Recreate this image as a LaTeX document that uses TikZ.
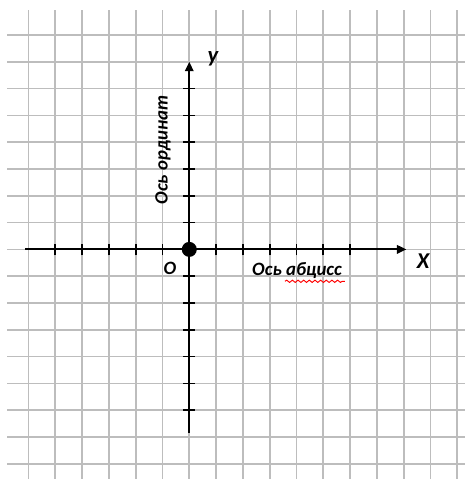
\documentclass[tikz,border=0pt]{standalone}
\usepackage{fontspec}
\setmainfont{Carlito}
\usetikzlibrary{arrows.meta, decorations.pathmorphing}

\begin{document}
\begin{tikzpicture}[
    x=0.5cm, y=0.5cm,
    gridline/.style={line width=0.9pt, black!26},
    axis/.style={line width=1pt, black, -{Triangle[length=5pt, width=4.5pt]}},
    tickmark/.style={line width=0.9pt, black},
    lbl/.style={font=\bfseries\itshape, inner sep=1pt},
    wavy/.style={red, line width=0.5pt, decorate, decoration={snake, amplitude=0.6pt, segment length=3pt}},
]
\useasboundingbox (-7.063,-8.567) rectangle (10.287,9.306);

% --- Squared paper ---
\foreach \i in {-6,...,10}
    \draw[gridline] (\i,-8.7) -- (\i,8.93);
\foreach \j in {-8,...,8}
    \draw[gridline] (-6.8,\j) -- (10.4,\j);

% --- Axes ---
\coordinate (xstart) at (-6.13,0);
\coordinate (xend) at (8.1,0);
\coordinate (ystart) at (0,-6.85);
\coordinate (yend) at (0,7);
\draw[axis] (xstart) -- (xend);
\draw[axis] (ystart) -- (yend);

% Ticks
\foreach \i in {-5,...,-1,1,2,...,6}
    \draw[tickmark] (\i,-0.22) -- (\i,0.22);
\foreach \j in {-6,...,-1,1,2,...,6}
    \draw[tickmark] (-0.22,\j) -- (0.22,\j);

% Origin
\node[circle, fill=black, minimum size=0.28cm, inner sep=0pt] (origin) at (0,0) {};

% --- Labels ---
\node[lbl, font=\large\bfseries\itshape] (ylabel) at (0.88,7.13) {y};
\node[lbl, font=\large\bfseries\itshape] (xlabel) at (8.72,-0.45) {X};
\node[lbl] (olabel) at (-0.72,-0.69) {O};
\node[lbl, rotate=90] (ordlabel) at (-0.98,3.71) {Ось ординат};
\node[lbl] (abslabel) at (4.02,-0.8) {Ось абцисс};
\draw[wavy] (3.57,-1.19) -- (5.81,-1.19);

\end{tikzpicture}
\end{document}
